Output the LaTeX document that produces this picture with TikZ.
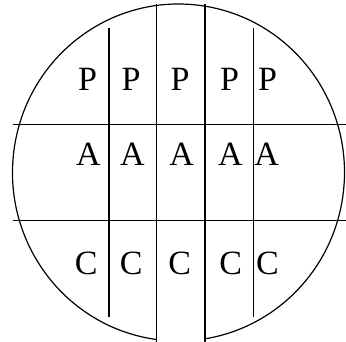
\documentclass[tikz,border=0pt]{standalone}
\usepackage{fontspec}
\setmainfont{Liberation Serif}
\usepackage{tikz}
\usetikzlibrary{positioning,calc}

\tikzset{
  gridline/.style={line width=1.2pt},
  cell/.style={font=\fontsize{34}{34}\selectfont, inner sep=0pt}
}

\begin{document}
\begin{tikzpicture}[x=1pt,y=-1pt]
  \useasboundingbox (0,0) rectangle (346,342);
  % 外周(下の中央は開いている)
  \draw[gridline] (178.5,172.5) ++(97.5:166 and 168.5) arc[start angle=97.5,end angle=440.8,x radius=166,y radius=168.5];
  \draw[gridline] (12.7,124.3) -- (346,124.3); \draw[gridline] (12.7,220.3) -- (346,220.3); % 横線
  \draw[gridline] (109,28.3) -- (109,316.7); \draw[gridline] (253.3,28.3) -- (253.3,316.7); % 短い縦線
  \draw[gridline] (156.7,4) -- (156.7,342); \draw[gridline] (205,4) -- (205,342); % 長い縦線
  \node[cell] (p1) at (87.5,79.2){P};  \node[cell] (p2) at (131,79.2){P};  \node[cell] (p3) at (180,79.2){P};
  \node[cell] (p4) at (229.7,79.2){P}; \node[cell] (p5) at (267.5,79.2){P};
  \node[cell] (a1) at (88.3,153.8){A}; \node[cell] (a2) at (132.5,153.8){A}; \node[cell] (a3) at (181.7,153.8){A};
  \node[cell] (a4) at (230.3,153.8){A}; \node[cell] (a5) at (266.7,153.8){A};
  \node[cell] (c1) at (86.3,263){C}; \node[cell] (c2) at (131.3,263){C}; \node[cell] (c3) at (179.7,263){C};
  \node[cell] (c4) at (230.8,263){C}; \node[cell] (c5) at (267.5,263){C};
\end{tikzpicture}
\end{document}
